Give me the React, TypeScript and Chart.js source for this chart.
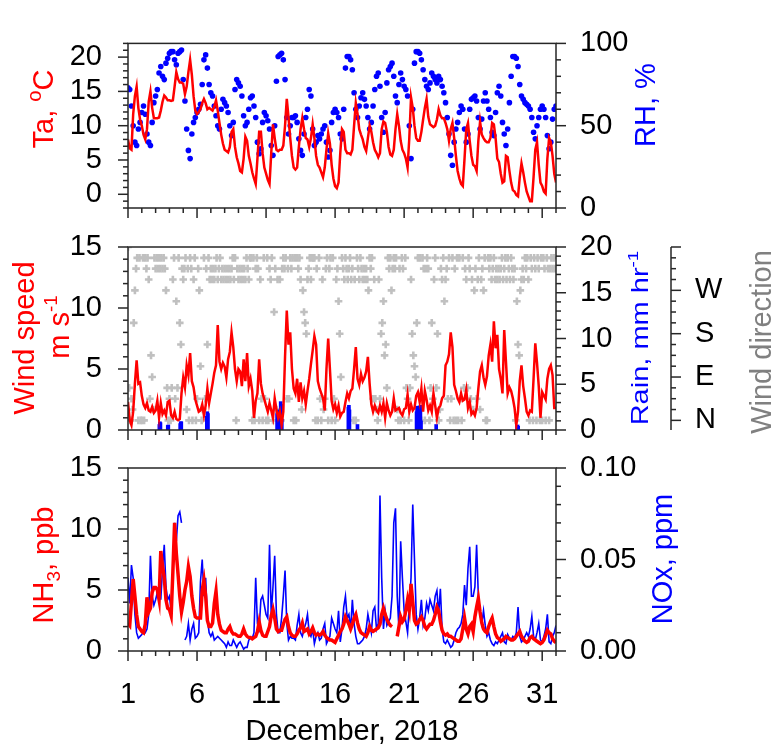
import React, { useEffect, useRef } from "react";
import { Chart, registerables } from "chart.js";

Chart.register(...registerables);

const CANVAS_W = 776;
const CANVAS_H = 745;
const FONT_FAMILY = "'Liberation Sans', Arial, Helvetica, sans-serif";
const FONT_SIZE = 29;
const RED = "#ff0000";
const BLUE = "#0000ff";
const GRAY = "#c0c0c0";
const TITLE_GRAY = "#808080";
const AXIS_COLOR = "#262626";

// x axis: day of December 2018 (1 = Dec 1 00:00, 32 = Jan 1 00:00)
const X_MIN = 1;
const X_MAX = 32;
const STEP_3H = 3 / 24;
const STEP_2H = 2 / 24;
const DIR_SECTOR_DEG = 22.5;

const dayTicks = [1, 6, 11, 16, 21, 26, 31];
const taTicks = [0, 5, 10, 15, 20];
const rhTicks = [0, 50, 100];
const wsTicks = [0, 5, 10, 15];
const rainTicks = [0, 5, 10, 15, 20];
const dirTicks = [0, 90, 180, 270];
const dirLabels = ["N", "E", "S", "W"];
const nh3Ticks = [0, 5, 10, 15];
const noxTicks = [0, 0.05, 0.1];

// Air temperature (°C), 3-hourly from Dec 1 00:00
const taC = [
  8.0, 6.7, 6.5, 11.7, 14.3, 15.7, 12.6, 10.9,
  10.0, 8.7, 8.0, 9.5, 13.5, 15.0, 12.6, 11.1,
  11.1, 11.1, 11.2, 12.2, 13.5, 14.4, 14.1, 13.7,
  13.7, 13.6, 13.7, 15.7, 17.8, 16.8, 16.3, 16.3,
  16.1, 14.6, 15.7, 17.8, 19.6, 17.4, 14.3, 12.2,
  11.7, 12.0, 12.4, 13.3, 13.9, 13.3, 12.4, 12.6,
  12.4, 12.2, 12.8, 13.7, 12.2, 10.4, 8.7, 7.4,
  6.5, 6.3, 6.1, 6.9, 9.1, 9.5, 6.9, 5.4,
  4.5, 3.4, 3.2, 5.2, 8.4, 7.8, 5.6, 4.5,
  3.2, 2.3, 1.5, 5.2, 9.1, 9.1, 6.0, 3.9,
  3.0, 2.1, 1.5, 6.0, 10.2, 8.2, 6.5, 6.3,
  6.5, 6.5, 7.1, 10.0, 13.9, 11.3, 8.2, 5.6,
  3.9, 3.6, 3.9, 6.9, 9.5, 11.1, 9.5, 8.2,
  8.0, 6.9, 8.2, 10.2, 8.2, 5.6, 4.3, 3.9,
  3.2, 2.5, 3.9, 6.5, 8.9, 7.4, 4.3, 2.3,
  1.2, 0.9, 1.7, 6.0, 9.5, 9.1, 6.5, 6.0,
  6.0, 5.8, 6.5, 10.0, 13.3, 11.7, 9.5, 8.7,
  8.0, 6.9, 6.3, 8.2, 10.0, 9.1, 7.6, 6.5,
  6.0, 5.4, 6.0, 9.5, 10.6, 10.4, 9.1, 6.9,
  5.8, 5.6, 6.5, 9.5, 11.7, 10.0, 7.8, 6.5,
  6.0, 5.2, 3.9, 8.2, 14.1, 12.6, 10.0, 8.2,
  7.8, 7.8, 9.1, 10.9, 12.6, 13.9, 11.3, 10.2,
  10.0, 9.8, 10.0, 10.9, 12.4, 11.5, 11.1, 11.1,
  10.4, 9.5, 7.8, 9.5, 10.4, 8.2, 5.6, 3.4,
  2.3, 1.5, 1.2, 5.2, 9.5, 10.4, 7.8, 5.6,
  4.3, 4.1, 3.4, 7.8, 10.6, 8.7, 8.2, 7.8,
  7.6, 7.6, 8.2, 10.4, 10.2, 8.2, 5.2, 4.7,
  3.0, 1.7, 1.9, 5.6, 5.4, 3.4, 1.7, 0.6,
  0.4, -0.1, -0.3, 2.5, 4.5, 3.2, 1.7, 0.4,
  -0.3, -1.0, -1.0, 2.5, 6.5, 7.6, 4.3, 1.7,
  1.2, 0.4, 0.1, 5.2, 8.2, 7.6, 5.6, 3.0,
  1.7,
];

// Relative humidity (%), 3-hourly
const rhPct = [
  73, 72, 62, 50, 40, 38, 48, 52,
  58, 62, 57, 45, 40, 38, 52, 64,
  68, 72, 82, 86, 80, 78, 88, 91,
  94, 95, 95, 90, 87, 94, 95, 96,
  78, 65, 48, 35, 30, 45, 52, 55,
  58, 60, 63, 75, 90, 93, 85, 75,
  70, 68, 62, 56, 50, 48, 60, 66,
  64, 62, 58, 50, 44, 52, 72, 78,
  76, 74, 68, 56, 50, 52, 60, 67,
  68, 62, 55, 40, 33, 36, 52, 58,
  56, 53, 48, 38, 32, 50, 77, 92,
  93, 94, 90, 78, 55, 45, 50, 55,
  55, 56, 52, 42, 35, 32, 45, 55,
  60, 72, 68, 48, 38, 40, 44, 42,
  45, 48, 50, 40, 31, 35, 52, 58,
  60, 58, 55, 45, 42, 60, 85, 92,
  92, 90, 84, 70, 60, 55, 62, 67,
  70, 66, 62, 55, 48, 52, 62, 72,
  80, 82, 74, 55, 46, 58, 76, 84,
  86, 88, 80, 68, 64, 75, 82, 78,
  74, 72, 68, 50, 30, 60, 88, 95,
  95, 94, 90, 84, 78, 74, 72, 76,
  82, 80, 78, 76, 80, 78, 74, 70,
  64, 55, 45, 32, 26, 40, 48, 52,
  58, 62, 60, 48, 40, 45, 60, 66,
  67, 68, 65, 55, 48, 54, 65, 70,
  65, 60, 55, 46, 44, 58, 70, 74,
  68, 52, 45, 38, 48, 64, 80, 92,
  92, 91, 86, 75, 68, 66, 64, 63,
  62, 60, 55, 46, 42, 50, 55, 60,
  62, 60, 55, 44, 36, 40, 54, 60,
  62,
];

// Wind speed (m/s), 3-hourly
const windSpeed = [
  2.3, 0.8, 0.4, 1.5, 3.8, 5.7, 3.8, 3.9,
  2.8, 2.1, 1.8, 2.2, 1.6, 1.5, 1.9, 1.4,
  1.6, 2.4, 1.0, 2.2, 1.3, 1.6, 1.2, 2.3,
  2.4, 1.2, 1.0, 1.5, 0.9, 0.8, 0.9, 3.0,
  4.3, 3.5, 5.3, 4.5, 6.3, 4.0, 3.5, 2.5,
  2.0, 1.5, 1.6, 2.1, 1.2, 2.0, 3.4, 2.2,
  3.0, 3.8, 4.7, 5.3, 8.6, 5.6, 5.0, 5.5,
  5.2, 4.3, 5.8, 6.4, 8.0, 6.8, 5.0, 4.0,
  5.0, 4.8, 3.6, 5.8, 4.0, 6.3, 3.6, 4.2,
  3.2, 1.0, 2.4, 3.0, 5.8, 3.8, 3.0, 2.5,
  2.0, 1.5, 2.2, 1.6, 1.0, 2.6, 1.7, 1.0,
  1.5, 0.4, 1.5, 6.0, 9.8, 7.0, 8.0, 5.0,
  3.4, 3.0, 4.2, 2.3, 3.9, 2.6, 3.2, 2.1,
  3.2, 4.2, 5.4, 6.5, 7.7, 7.0, 4.0, 3.4,
  3.0, 2.6, 1.6, 5.0, 7.5, 5.0, 2.4, 1.7,
  2.1, 1.4, 2.0, 1.1, 1.4, 1.5, 2.3, 3.0,
  2.6, 3.2, 3.4, 5.0, 6.8, 4.2, 3.7, 4.6,
  4.0, 4.3, 4.8, 6.0, 3.8, 2.1, 1.5, 2.0,
  1.6, 1.4, 2.0, 1.5, 2.2, 1.0, 2.2, 1.6,
  1.2, 1.5, 2.6, 1.6, 1.7, 1.8, 1.4, 1.2,
  1.7, 1.8, 2.9, 1.5, 2.1, 1.6, 1.8, 2.8,
  3.1, 2.3, 3.4, 1.5, 3.2, 2.5, 1.6, 2.0,
  1.5, 3.0, 2.0, 1.0, 1.8, 2.0, 2.6, 2.8,
  5.3, 5.6, 6.2, 8.0, 6.8, 3.7, 3.2, 2.6,
  2.3, 3.0, 2.4, 2.5, 3.3, 1.8, 2.3, 1.3,
  1.5, 1.2, 1.8, 3.4, 4.8, 5.3, 4.3, 3.7,
  4.4, 6.1, 7.0, 5.6, 8.9, 6.7, 7.8, 5.0,
  4.2, 3.0, 8.2, 5.6, 3.0, 3.5, 3.2, 2.6,
  1.8, 0.4, 1.5, 4.0, 5.3, 3.6, 2.6, 1.5,
  1.2, 1.6, 1.5, 4.2, 7.1, 5.5, 3.6, 1.0,
  3.1, 2.8, 2.5, 4.2, 5.0, 5.3, 4.5, 1.8,
  1.8,
];

// Wind direction, 16-point compass sector (0 = N, 4 = E, 8 = S, 12 = W, 16 = N at 360), 2-hourly
const windDirSector = [
  16, 3, 0, 2, 1, 9, 12, 14, 15, 0, 15, 0,
  0, 15, 0, 15, 14, 15, 13, 2, 6, 4, 1, 15,
  14, 15, 14, 15, 14, 15, 14, 15, 14, 12, 3, 0,
  2, 0, 3, 13, 15, 2, 11, 3, 15, 9, 7, 14,
  13, 14, 15, 1, 14, 0, 15, 14, 0, 13, 15, 0,
  2, 14, 12, 5, 0, 1, 15, 2, 14, 7, 15, 13,
  14, 13, 14, 13, 14, 15, 13, 14, 15, 13, 14, 13,
  14, 13, 14, 13, 14, 13, 14, 15, 13, 15, 0, 14,
  13, 14, 13, 14, 13, 14, 13, 15, 14, 13, 15, 15,
  0, 15, 0, 14, 15, 14, 0, 13, 2, 0, 15, 2,
  0, 15, 0, 14, 13, 15, 0, 10, 14, 1, 13, 0,
  13, 0, 14, 15, 14, 15, 2, 14, 2, 15, 14, 15,
  0, 15, 0, 15, 14, 15, 13, 1, 12, 10, 9, 8,
  13, 14, 15, 13, 15, 15, 15, 0, 14, 0, 15, 2,
  0, 13, 1, 2, 14, 15, 0, 14, 15, 0, 15, 2,
  0, 13, 14, 11, 8, 4, 15, 14, 13, 15, 14, 13,
  14, 15, 13, 14, 0, 13, 0, 15, 14, 13, 15, 14,
  13, 14, 13, 14, 13, 12, 15, 14, 15, 2, 13, 2,
  1, 0, 13, 2, 8, 9, 11, 6, 7, 3, 15, 14,
  15, 12, 14, 15, 14, 15, 1, 0, 14, 0, 15, 14,
  0, 15, 3, 2, 0, 3, 13, 8, 6, 5, 4, 9,
  15, 0, 15, 0, 15, 14, 0, 14, 15, 14, 0, 3,
  9, 2, 13, 15, 3, 8, 0, 1, 14, 13, 15, 11,
  13, 14, 2, 15, 0, 2, 15, 0, 14, 0, 15, 0,
  15, 2, 0, 15, 3, 14, 13, 3, 15, 14, 2, 13,
  1, 12, 14, 2, 13, 15, 1, 13, 14, 12, 15, 0,
  0, 15, 14, 15, 13, 14, 15, 13, 14, 13, 14, 13,
  14, 15, 13, 14, 15, 13, 15, 14, 13, 15, 14, 13,
  14, 0, 11, 7, 6, 12, 13, 14, 13, 15, 14, 15,
  13, 0, 15, 14, 0, 15, 14, 0, 15, 14, 0, 15,
  0, 15, 14, 0, 15, 14, 0, 14, 15, 14, 15, 14,
];

// Rain events (day, mm/hr)
const rainDay = [
  3.27, 3.31, 3.35, 3.88, 3.92, 4.78, 4.82, 4.86, 6.71, 6.75, 6.79,
  11.8, 11.84, 11.88, 11.92, 12.0, 12.06, 12.1, 12.14,
  16.96, 17.0, 17.04, 17.62,
  21.9, 21.94, 21.98, 22.02, 22.06, 22.1, 22.14, 22.18, 22.22,
  23.32, 29.18, 29.22, 29.26,
];
const rainMm = [
  0.6, 0.9, 0.8, 0.5, 0.55, 0.7, 0.9, 0.9, 1.5, 2.0, 1.8,
  1.8, 2.2, 2.0, 1.5, 1.0, 3.1, 2.8, 1.2,
  2.5, 2.7, 2.2, 0.6,
  2.0, 2.6, 2.5, 1.8, 2.6, 2.4, 1.5, 2.7, 1.0,
  0.6, 0.5, 0.55, 0.4,
];

// NH3 (ppb), 3-hourly
const nh3Ppb = [
  2.3, 2.1, 4.0, 5.9, 4.5, 3.0, 2.0, 1.8,
  1.6, 1.5, 2.2, 4.4, 3.2, 3.5, 4.8, 5.2,
  5.2, 5.0, 4.2, 8.2, 7.0, 6.0, 4.2, 3.5,
  3.4, 2.9, 6.5, 10.5, 8.0, 6.3, 4.5, 3.2,
  4.0, 5.0, 5.7, 6.9, 6.1, 4.5, 3.5, 2.8,
  2.7, 2.7, 2.7, 5.0, 5.8, 4.5, 2.5, 2.0,
  2.0, 2.3, 3.9, 4.9, 3.0, 2.2, 1.7, 1.6,
  1.5, 1.5, 1.8, 2.0, 1.6, 1.4, 1.4, 1.3,
  1.2, 1.2, 1.4, 1.8, 1.4, 1.2, 1.1, 1.1,
  1.0, 1.1, 1.2, 1.6, 2.4, 1.7, 1.3, 1.2,
  1.2, 1.6, 2.0, 2.9, 3.4, 2.7, 1.8, 1.6,
  1.7, 1.7, 2.2, 2.6, 2.8, 2.0, 1.5, 1.3,
  1.2, 1.2, 1.4, 1.7, 1.9, 2.3, 1.6, 1.7,
  1.8, 1.4, 1.6, 1.9, 1.5, 1.3, 1.4, 1.3,
  1.4, 1.6, 1.3, 1.1, 1.0, 0.9, 0.9, 0.8,
  0.7, 1.0, 1.3, 1.6, 1.8, 2.2, 2.8, 2.5,
  2.2, 1.8, 2.2, 2.7, 3.0, 2.3, 1.8, 1.5,
  1.4, 1.3, 1.2, 1.5, 2.0, 1.7, 1.6, 1.7,
  1.8, 1.9, 2.2, 3.0, 3.5, 3.0, 2.6, 2.3,
  2.1, 2.0, null, null, 1.2, 2.0, 2.8, 2.4,
  2.6, 3.3, 4.2, 3.4, 5.5, 4.0, 2.5, 2.2,
  2.3, 2.6, 2.8, 2.5, 2.0, 1.8, 2.0, 2.2,
  2.2, 2.5, 3.0, 3.6, 3.3, 2.4, 1.7, 1.4,
  1.3, 1.4, 1.2, 1.2, 1.1, 1.0, 0.9, 0.8,
  0.8, 1.0, 1.8, 2.7, 1.8, 1.4, 2.0, 2.2,
  1.6, 2.8, 3.6, 4.3, 3.2, 2.3, 1.8, 1.6,
  1.5, 2.0, 2.4, 2.7, 2.0, 1.4, 1.1, 1.0,
  0.8, 0.9, 1.0, 1.2, 1.1, 1.0, 0.9, 0.9,
  1.0, 1.2, 1.4, 1.6, 1.2, 1.0, 0.8, 0.7,
  0.8, 1.1, 1.2, 1.0, 0.9, 0.8, 0.7, 0.6,
  0.7, 0.9, 1.3, 1.7, 1.5, 1.4, 1.0, 0.8,
  0.7,
];

// NOx (ppm), 3-hourly
const noxPpm = [
  0.040, 0.026, 0.047, 0.040, 0.020, 0.010, 0.007, 0.008,
  0.009, 0.011, 0.010, 0.012, 0.020, 0.052, 0.030, 0.025,
  0.028, 0.032, 0.036, 0.028, 0.045, 0.058, 0.035, 0.028,
  0.030, 0.022, 0.040, 0.070, 0.060, 0.074, 0.076, 0.070,
  null, 0.006, 0.008, 0.015, 0.006, 0.012, 0.015, 0.007,
  0.008, 0.010, 0.038, 0.050, 0.030, 0.040, 0.018, 0.010,
  0.008, 0.010, 0.006, 0.007, 0.008, 0.007, 0.006, 0.005,
  0.004, 0.002, 0.005, 0.003, 0.003, 0.006, 0.004, 0.002,
  0.004, 0.005, 0.003, 0.001, 0.002, 0.002, 0.006, 0.007,
  0.007, 0.010, 0.040, 0.015, 0.012, 0.028, 0.030, 0.025,
  0.020, 0.018, 0.058, 0.020, 0.035, 0.052, 0.020, 0.010,
  0.010, 0.018, 0.030, 0.044, 0.015, 0.006, 0.008, 0.007,
  0.007, 0.006, 0.014, 0.020, 0.010, 0.008, 0.012, 0.015,
  0.020, 0.010, 0.008, 0.012, 0.004, 0.008, 0.010, 0.006,
  0.007, 0.012, 0.015, 0.004, 0.006, 0.008, 0.018, 0.015,
  0.012, 0.010, 0.022, 0.005, 0.012, 0.024, 0.030, 0.018,
  0.020, 0.012, 0.028, 0.015, 0.008, 0.004, 0.004, 0.005,
  0.006, 0.008, 0.012, 0.020, 0.015, 0.010, 0.022, 0.024,
  0.012, 0.015, 0.085, 0.040, 0.012, 0.022, 0.014, 0.016,
  0.018, 0.030, 0.070, 0.078, 0.030, 0.012, 0.060, 0.040,
  0.022, 0.016, 0.010, 0.025, 0.040, 0.080, 0.050, 0.020,
  0.012, 0.018, 0.028, 0.014, 0.018, 0.026, 0.022, 0.028,
  0.025, 0.022, 0.030, 0.033, 0.020, 0.034, 0.012, 0.005,
  0.004, 0.006, 0.004, 0.002, 0.003, 0.006, 0.010, 0.012,
  0.013, 0.015, 0.020, 0.036, 0.025, 0.045, 0.057, 0.030,
  0.030, 0.035, 0.058, 0.030, 0.020, 0.015, 0.022, 0.014,
  0.008, 0.010, 0.006, 0.004, 0.003, 0.005, 0.004, 0.006,
  0.008, 0.010, 0.005, 0.004, 0.009, 0.007, 0.006, 0.008,
  0.007, 0.010, 0.024, 0.008, 0.005, 0.006, 0.008, 0.010,
  0.008, 0.012, 0.019, 0.008, 0.006, 0.010, 0.015, 0.006,
  0.005, 0.008, 0.012, 0.020, 0.005, 0.004, 0.008, 0.010,
  0.014,
];

// ---------- helpers ----------
const font = (size = FONT_SIZE) => ({ family: FONT_FAMILY, size });

const series = (values: (number | null)[], step: number) =>
  values.map((v, i) => ({ x: X_MIN + i * step, y: v }));

type Seg = { t: string; rel?: number; shift?: number };
type TitleSpec = { segs: Seg[]; x: number; y: number; color: string; rotate: boolean; squeeze?: number };
type TickSpec = { id: string; side: "left" | "right" | "axis"; min: number; max: number; minor: number; major: number };

function drawTitle(ctx: CanvasRenderingContext2D, t: TitleSpec) {
  ctx.save();
  ctx.translate(t.x, t.y);
  if (t.rotate) ctx.rotate(-Math.PI / 2);
  if (t.squeeze) ctx.scale(1, t.squeeze);
  ctx.fillStyle = t.color;
  ctx.textBaseline = "alphabetic";
  ctx.textAlign = "left";
  const widths = t.segs.map((s) => {
    ctx.font = `${FONT_SIZE * (s.rel ?? 1)}px ${FONT_FAMILY}`;
    return ctx.measureText(s.t).width;
  });
  const total = widths.reduce((a, b) => a + b, 0);
  let x = -total / 2;
  t.segs.forEach((s, i) => {
    ctx.font = `${FONT_SIZE * (s.rel ?? 1)}px ${FONT_FAMILY}`;
    ctx.fillText(s.t, x, -(s.shift ?? 0));
    x += widths[i];
  });
  ctx.restore();
}

// Frame, minor/major tick marks, extra axis line and axis titles
function decorPlugin(ticks: TickSpec[], titles: TitleSpec[], axisLines: string[] = []) {
  return {
    id: "panelDecor",
    afterDraw(chart: any) {
      const ctx: CanvasRenderingContext2D = chart.ctx;
      const ca = chart.chartArea;
      ctx.save();
      ctx.strokeStyle = AXIS_COLOR;
      ctx.lineWidth = 1.5;
      ctx.strokeRect(ca.left, ca.top, ca.right - ca.left, ca.bottom - ca.top);
      for (const id of axisLines) {
        const s = chart.scales[id];
        ctx.beginPath();
        ctx.moveTo(s.left, ca.top);
        ctx.lineTo(s.left, ca.bottom);
        ctx.stroke();
      }
      // x ticks: every day, long ones at labelled days
      const sx = chart.scales.x;
      for (let d = X_MIN; d <= X_MAX; d++) {
        const len = dayTicks.includes(d) ? 10 : 5;
        const p = sx.getPixelForValue(d);
        ctx.beginPath();
        ctx.moveTo(p, ca.bottom);
        ctx.lineTo(p, ca.bottom + len);
        ctx.stroke();
      }
      for (const t of ticks) {
        const s = chart.scales[t.id];
        const first = Math.ceil(t.min / t.minor - 1e-9);
        const last = Math.floor(t.max / t.minor + 1e-9);
        for (let k = first; k <= last; k++) {
          const v = k * t.minor;
          const r = v / t.major;
          const isMajor = Math.abs(r - Math.round(r)) < 1e-6;
          const len = isMajor ? 10 : 5;
          const p = s.getPixelForValue(v);
          ctx.beginPath();
          if (t.side === "left") {
            ctx.moveTo(ca.left - len, p);
            ctx.lineTo(ca.left, p);
          } else if (t.side === "right") {
            ctx.moveTo(ca.right, p);
            ctx.lineTo(ca.right + len, p);
          } else {
            ctx.moveTo(s.left, p);
            ctx.lineTo(s.left + len, p);
          }
          ctx.stroke();
        }
      }
      ctx.restore();
      for (const t of titles) drawTitle(ctx, t);
    },
  };
}

function xScale(showLabels: boolean, boxHeight: number) {
  return {
    type: "linear",
    position: "bottom",
    min: X_MIN,
    max: X_MAX,
    offset: false,
    grid: { display: false, drawTicks: false },
    border: { display: false },
    afterBuildTicks: (s: any) => {
      s.ticks = dayTicks.map((v) => ({ value: v }));
    },
    afterFit: (s: any) => {
      s.height = boxHeight;
    },
    ticks: {
      display: showLabels,
      font: font(),
      color: "#000",
      padding: 27,
      maxRotation: 0,
      minRotation: 0,
      autoSkip: false,
      callback: (v: number) => String(v),
    },
  };
}

function yScale(o: {
  position: "left" | "right";
  min: number;
  max: number;
  values: number[];
  width: number;
  padding: number;
  weight?: number;
  format?: (v: number) => string;
}) {
  return {
    type: "linear",
    position: o.position,
    min: o.min,
    max: o.max,
    weight: o.weight ?? 0,
    grid: { display: false, drawTicks: false },
    border: { display: false },
    afterBuildTicks: (s: any) => {
      s.ticks = o.values.map((v) => ({ value: v }));
    },
    afterFit: (s: any) => {
      s.width = o.width;
    },
    ticks: {
      font: font(),
      color: "#000",
      padding: o.padding,
      autoSkip: false,
      callback: o.format ?? ((v: number) => String(v)),
    },
  };
}

const PLOT_LEFT = 128;
const PLOT_RIGHT = 556;
const DIR_AXIS_X = 671;
const P1 = { top: 25, bottom: 208 };
const P2 = { top: 247, bottom: 430 };
const P3 = { top: 468, bottom: 651 };

const baseOptions = (top: number) => ({
  responsive: false,
  animation: false,
  devicePixelRatio: 1,
  events: [],
  layout: { padding: { top, left: 0, right: 0, bottom: 0 } },
  plugins: { legend: { display: false }, title: { display: false }, tooltip: { enabled: false } },
});

function buildPanel1(): any {
  return {
    type: "line",
    data: {
      datasets: [
        {
          label: "Ta",
          data: series(taC, STEP_3H),
          yAxisID: "yTa",
          borderColor: RED,
          borderWidth: 2.5,
          pointRadius: 0,
          tension: 0,
          order: 0,
        },
        {
          type: "scatter",
          label: "RH",
          data: series(rhPct, STEP_3H),
          yAxisID: "yRH",
          backgroundColor: BLUE,
          borderColor: BLUE,
          borderWidth: 0,
          pointRadius: 2.8,
          order: 1,
        },
      ],
    },
    options: {
      ...baseOptions(P1.top),
      scales: {
        x: xScale(false, CANVAS_H - P1.bottom),
        yTa: yScale({ position: "left", min: -2, max: 22, values: taTicks, width: PLOT_LEFT, padding: 26 }),
        yRH: yScale({ position: "right", min: 0, max: 100, values: rhTicks, width: CANVAS_W - PLOT_RIGHT, padding: 24 }),
      },
    },
    plugins: [
      decorPlugin(
        [
          { id: "yTa", side: "left", min: -2, max: 22, minor: 1, major: 5 },
          { id: "yRH", side: "right", min: 0, max: 100, minor: 10, major: 50 },
        ],
        [
          { segs: [{ t: "Ta, " }, { t: "o", rel: 0.7, shift: 12 }, { t: "C" }], x: 53, y: 109, color: RED, rotate: true },
          { segs: [{ t: "RH, %" }], x: 655, y: 105, color: BLUE, rotate: true },
        ]
      ),
    ],
  };
}

function buildPanel2(): any {
  return {
    type: "line",
    data: {
      datasets: [
        {
          label: "Wind speed",
          data: series(windSpeed, STEP_3H),
          yAxisID: "yWS",
          borderColor: RED,
          borderWidth: 2.5,
          pointRadius: 0,
          tension: 0,
          order: 0,
        },
        {
          type: "bar",
          label: "Rain",
          data: rainDay.map((d, i) => ({ x: d, y: rainMm[i] })),
          yAxisID: "yRain",
          backgroundColor: BLUE,
          borderWidth: 0,
          barThickness: 3,
          grouped: false,
          order: 1,
        },
        {
          type: "scatter",
          label: "Wind direction",
          data: windDirSector.map((s, i) => ({ x: X_MIN + i * STEP_2H, y: s * DIR_SECTOR_DEG })),
          yAxisID: "yDir",
          pointStyle: "cross",
          pointRadius: 3.8,
          borderWidth: 2.6,
          borderColor: GRAY,
          backgroundColor: GRAY,
          order: 2,
        },
      ],
    },
    options: {
      ...baseOptions(P2.top),
      scales: {
        x: xScale(false, CANVAS_H - P2.bottom),
        yWS: yScale({ position: "left", min: 0, max: 15, values: wsTicks, width: PLOT_LEFT, padding: 26 }),
        yRain: yScale({ position: "right", min: 0, max: 20, values: rainTicks, width: DIR_AXIS_X - PLOT_RIGHT, padding: 24, weight: 0 }),
        yDir: yScale({
          position: "right",
          min: -20,
          max: 360,
          values: dirTicks,
          width: CANVAS_W - DIR_AXIS_X,
          padding: 24,
          weight: 1,
          format: (v: number) => dirLabels[dirTicks.indexOf(v)] ?? "",
        }),
      },
    },
    plugins: [
      decorPlugin(
        [
          { id: "yWS", side: "left", min: 0, max: 15, minor: 1, major: 5 },
          { id: "yRain", side: "right", min: 0, max: 20, minor: 1, major: 5 },
          { id: "yDir", side: "axis", min: 0, max: 360, minor: 22.5, major: 90 },
        ],
        [
          { segs: [{ t: "Wind speed" }], x: 34, y: 338, color: RED, rotate: true },
          { segs: [{ t: "m s" }, { t: "-1", rel: 0.65, shift: 12 }], x: 69, y: 327, color: RED, rotate: true },
          { segs: [{ t: "Rain, mm hr" }, { t: "-1", rel: 0.65, shift: 12 }], x: 648, y: 338, color: BLUE, rotate: true, squeeze: 0.8 },
          { segs: [{ t: "Wind direction" }], x: 771, y: 342, color: TITLE_GRAY, rotate: true },
        ],
        ["yDir"]
      ),
    ],
  };
}

function buildPanel3(): any {
  return {
    type: "line",
    data: {
      datasets: [
        {
          label: "NH3",
          data: series(nh3Ppb, STEP_3H),
          yAxisID: "yNH3",
          borderColor: RED,
          borderWidth: 3.5,
          pointRadius: 0,
          tension: 0,
          spanGaps: false,
          order: 0,
        },
        {
          label: "NOx",
          data: series(noxPpm, STEP_3H),
          yAxisID: "yNOx",
          borderColor: BLUE,
          borderWidth: 1.6,
          pointRadius: 0,
          tension: 0,
          spanGaps: false,
          order: 1,
        },
      ],
    },
    options: {
      ...baseOptions(P3.top),
      scales: {
        x: xScale(true, CANVAS_H - P3.bottom),
        yNH3: yScale({ position: "left", min: 0, max: 15, values: nh3Ticks, width: PLOT_LEFT, padding: 26 }),
        yNOx: yScale({
          position: "right",
          min: 0,
          max: 0.1,
          values: noxTicks,
          width: CANVAS_W - PLOT_RIGHT,
          padding: 24,
          format: (v: number) => v.toFixed(2),
        }),
      },
    },
    plugins: [
      decorPlugin(
        [
          { id: "yNH3", side: "left", min: 0, max: 15, minor: 1, major: 5 },
          { id: "yNOx", side: "right", min: 0, max: 0.1, minor: 0.01, major: 0.05 },
        ],
        [
          { segs: [{ t: "NH" }, { t: "3", rel: 0.65, shift: -7 }, { t: ", ppb" }], x: 53, y: 565, color: RED, rotate: true },
          { segs: [{ t: "NOx, ppm" }], x: 672, y: 559, color: BLUE, rotate: true },
          { segs: [{ t: "December, 2018" }], x: 352, y: 740, color: "#000", rotate: false },
        ]
      ),
    ],
  };
}

function ChartCanvas({ build }: { build: () => any }) {
  const ref = useRef<HTMLCanvasElement | null>(null);
  useEffect(() => {
    if (!ref.current) return;
    const chart = new Chart(ref.current, build());
    return () => chart.destroy();
  }, [build]);
  return (
    <canvas
      ref={ref}
      width={CANVAS_W}
      height={CANVAS_H}
      style={{ position: "absolute", left: 0, top: 0, width: CANVAS_W, height: CANVAS_H }}
    />
  );
}

const builders = [buildPanel1, buildPanel2, buildPanel3];

export default function App() {
  return (
    <div
      style={{
        position: "absolute",
        left: 0,
        top: 0,
        width: CANVAS_W,
        height: CANVAS_H,
        background: "#fff",
        overflow: "hidden",
      }}
    >
      {builders.map((b, i) => (
        <ChartCanvas key={i} build={b} />
      ))}
    </div>
  );
}
